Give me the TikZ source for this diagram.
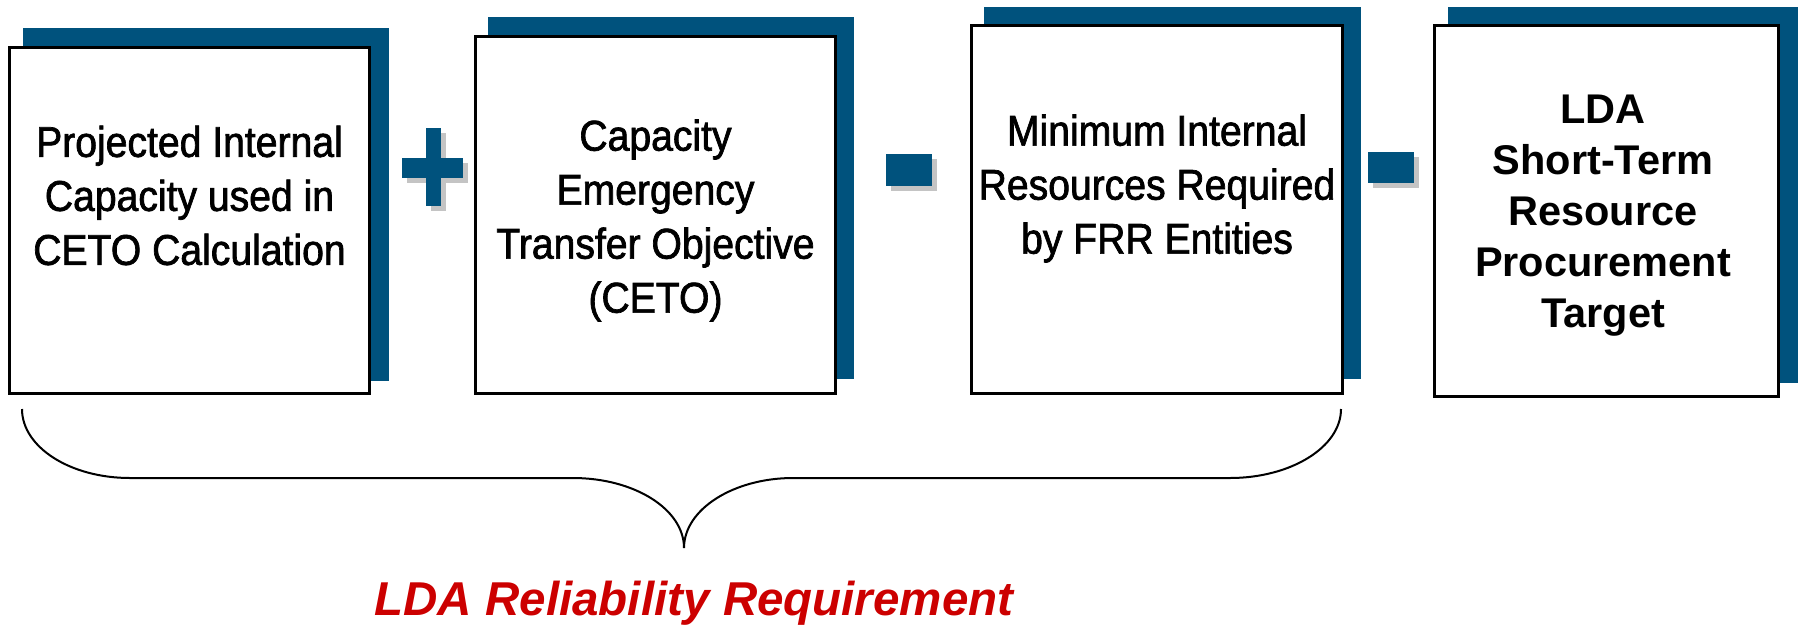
\documentclass[tikz,border=0pt]{standalone}
\usepackage{fontspec}
\setmainfont{Liberation Sans}
\newfontfamily\narrowfont{Liberation Sans}[FakeStretch=0.91,FakeBold=1.6]
\definecolor{pjmblue}{HTML}{00527D}
\definecolor{signshadow}{HTML}{C4C4C4}
\definecolor{reqred}{HTML}{CC0000}
\begin{document}
\begin{tikzpicture}[x=1pt,y=-1pt,
  backbox/.style={fill=pjmblue, draw=none},
  frontbox/.style={fill=white, draw=black, line width=3pt, inner sep=0pt},
  boxtext/.style={align=center, inner sep=0pt, font=\narrowfont\fontsize{43}{54}\selectfont},
  boldtext/.style={align=center, inner sep=0pt, font=\bfseries\fontsize{41.5}{51}\selectfont},
  signfill/.style={fill=pjmblue, draw=none},
  signshade/.style={fill=signshadow, draw=none},
  bracestyle/.style={draw=black, line width=2pt},
  reqtext/.style={font=\bfseries\itshape\fontsize{47.5}{57}\selectfont, text=reqred, anchor=base, inner sep=0pt}]
\useasboundingbox (0,0) rectangle (1806,630);
\fill[white] (0,0) rectangle (1806,630);
% blue offset panels
\fill[backbox] (23,28) rectangle (389,381);
\fill[backbox] (488,17) rectangle (854,379);
\fill[backbox] (984,7) rectangle (1361,379);
\fill[backbox] (1448,7) rectangle (1798,383);
% front boxes
\node[frontbox, minimum width=360pt, minimum height=346pt] (b1) at (189.5,220.5) {};
\node[frontbox, minimum width=360pt, minimum height=357pt] (b2) at (655.5,215) {};
\node[frontbox, minimum width=371pt, minimum height=368pt] (b3) at (1157,209.5) {};
\node[frontbox, minimum width=344pt, minimum height=371pt] (b4) at (1606.5,211) {};
% texts
\node[boxtext] (t1) at (189.5,195.5) {Projected Internal\\Capacity used in\\CETO Calculation};
\node[boxtext] (t2) at (655.5,220.5) {Capacity\\Emergency\\Transfer Objective\\(CETO)};
\node[boxtext] (t3) at (1157,188.5) {Minimum Internal\\Resources Required\\by FRR Entities};
\node[boldtext] (t4) at (1603,216) {LDA\\Short-Term\\Resource\\Procurement\\Target};
% plus sign
\fill[signshade] (431,133) rectangle (446,211);
\fill[signshade] (407,163) rectangle (468,183);
\fill[signfill] (426,128) rectangle (441,206);
\fill[signfill] (402,158) rectangle (463,178);
% minus signs
\fill[signshade] (891,159) rectangle (937,191);
\fill[signfill] (886,154) rectangle (932,186);
\fill[signshade] (1373,157) rectangle (1419,188);
\fill[signfill] (1368,152) rectangle (1414,183);
% brace
\coordinate (bl) at (22,409);
\coordinate (br) at (1341,409);
\coordinate (tip) at (684,548);
\draw[bracestyle] (bl) .. controls (22,447) and (70,478) .. (130,478) -- (573,478)
  .. controls (634,478) and (684,509) .. (tip)
  .. controls (684,509) and (734,478) .. (793,478) -- (1230,478)
  .. controls (1291,478) and (1341,447) .. (br);
\node[reqtext] (req) at (694,615) {LDA Reliability Requirement};
\end{tikzpicture}
\end{document}
